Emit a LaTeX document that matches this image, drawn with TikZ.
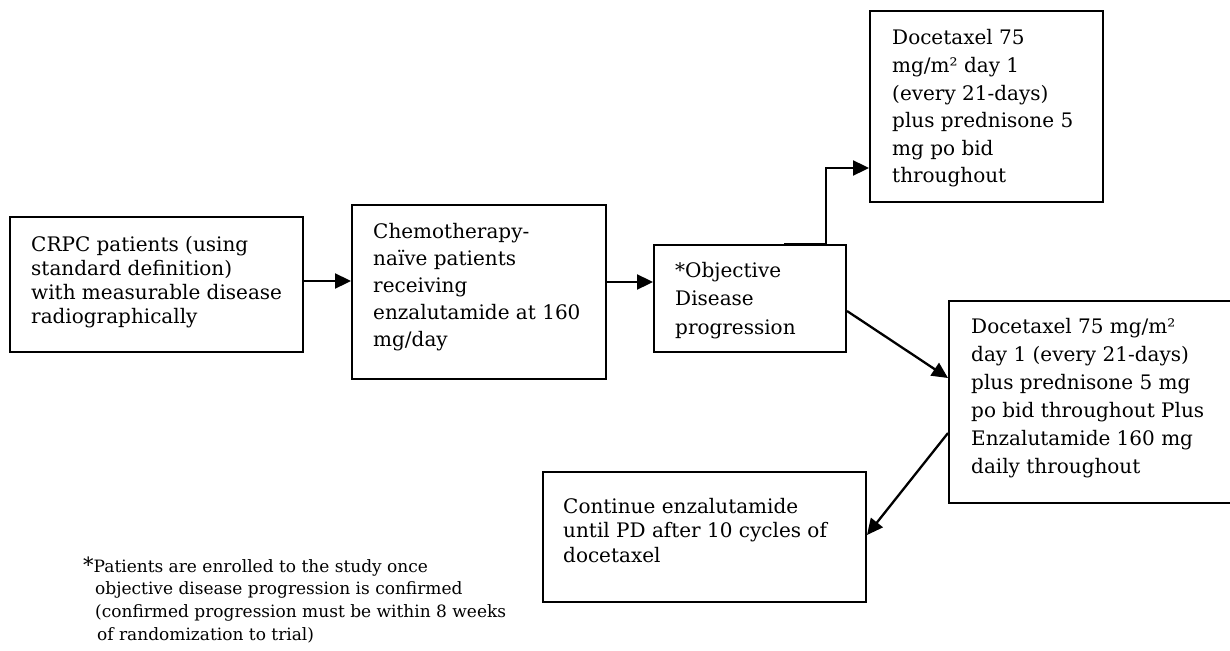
\documentclass[tikz,border=0pt]{standalone}
\usepackage{fontspec}
\setmainfont{DejaVu Serif}
\usetikzlibrary{arrows.meta,calc}
\newcommand{\btext}[2]{\parbox[t]{400pt}{\raggedright\fontsize{20}{#1}\selectfont #2}}
\begin{document}
\begin{tikzpicture}[x=1pt,y=-1pt,
  box/.style={draw, line width=2pt, inner sep=0pt},
  txt/.style={anchor=base west, inner sep=0pt},
  arr/.style={line width=2.3pt, -{Triangle[length=16pt,width=15pt]}}]
\useasboundingbox (0,0) rectangle (1230,650);
% boxes
\node[box, minimum width=293pt, minimum height=135pt] (a) at (156.5,284.5) {};
\node[box, minimum width=254pt, minimum height=174pt] (b) at (479,292) {};
\node[box, minimum width=192pt, minimum height=107pt] (c) at (750,298.5) {};
\node[box, minimum width=233pt, minimum height=191pt] (d) at (986.5,106.5) {};
\node[box, minimum width=285pt, minimum height=202pt] (e) at (1091.5,402) {};
\node[box, minimum width=323pt, minimum height=130pt] (f) at (704.5,537) {};
% texts
\node[txt] (at) at (31,251) {\btext{24}{CRPC patients (using\\standard definition)\\with measurable disease\\radiographically}};
\node[txt] (bt) at (373,238) {\btext{27}{Chemotherapy-\\naïve patients\\receiving\\enzalutamide at 160\\mg/day}};
\node[txt] (ct) at (675,277) {\btext{28.5}{*Objective\\Disease\\progression}};
\node[txt] (dt) at (892,45) {\btext{27.6}{Docetaxel 75\\mg/m² day 1\\(every 21-days)\\plus prednisone 5\\mg po bid\\throughout}};
\node[txt] (et) at (971,333) {\btext{28}{Docetaxel 75 mg/m²\\day 1 (every 21-days)\\plus prednisone 5 mg\\po bid throughout Plus\\Enzalutamide 160 mg\\daily throughout}};
\node[txt] (ft) at (563,513) {\btext{24.5}{Continue enzalutamide\\until PD after 10 cycles of\\docetaxel}};
\node[txt] (note) at (83,572) {\parbox[t]{500pt}{\raggedright\fontsize{17}{22.7}\selectfont
  {\fontsize{21}{22.7}\selectfont *}Patients are enrolled to the study once\\
  \hspace*{12pt}objective disease progression is confirmed\\
  \hspace*{12pt}(confirmed progression must be within 8 weeks\\
  \hspace*{14pt}of randomization to trial)}};
% connectors
\coordinate (ab) at ([yshift=3.5pt]a.east);
\draw[arr] (ab) -- (ab -| b.west);
\coordinate (bc) at ([yshift=10pt]b.east);
\draw[arr] (bc) -- (bc -| c.west);
\coordinate (cd0) at ($(c.north west)+(131,0)$);
\coordinate (cd1) at ($(c.north west)+(173,0)$);
\coordinate (dw) at ($(d.south west)+(0,-35)$);
\draw[arr] (cd0) -- (cd1) -- (cd1 |- dw) -- (dw);
\draw[arr] ([yshift=-12.5pt]c.east) -- ([yshift=24pt]e.west);
\draw[arr] ([yshift=-31pt]e.west) -- ([yshift=2pt]f.east);
\end{tikzpicture}
\end{document}
